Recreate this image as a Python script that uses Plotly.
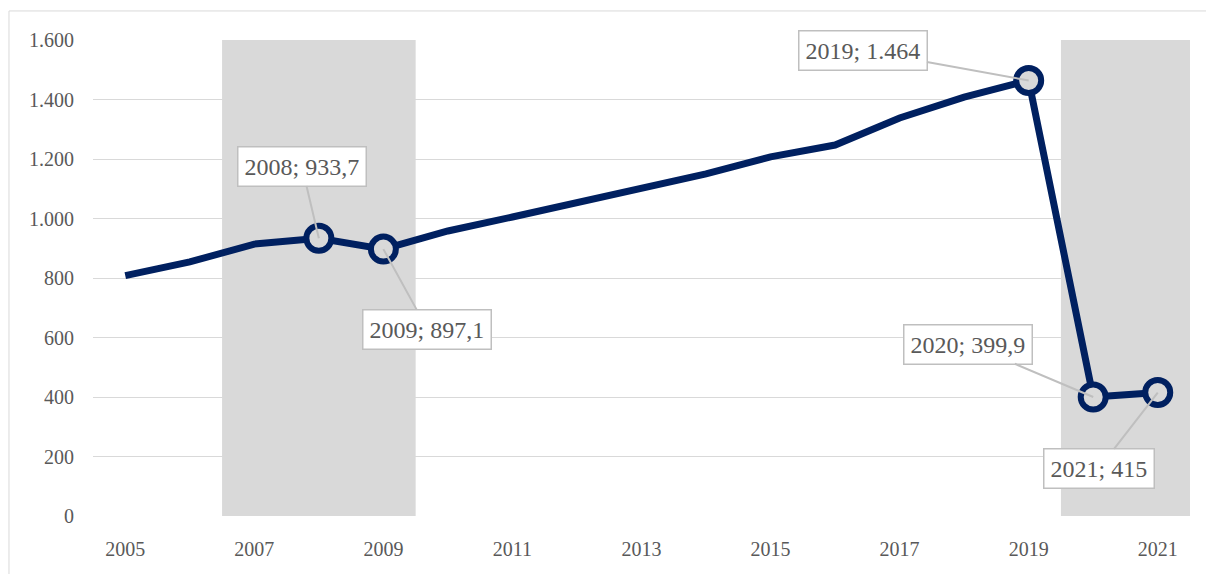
import plotly.graph_objects as go

years = list(range(2005, 2022))
values = [808, 854, 914, 933.7, 897.1, 958, 1005, 1052, 1100, 1150, 1207, 1247,
          1338, 1408, 1464, 399.9, 415]

# highlighted points and their callouts
marked_years = [2008, 2009, 2019, 2020, 2021]
marked_labels = ["2008; 933,7", "2009; 897,1", "2019; 1.464", "2020; 399,9", "2021; 415"]
label_offsets = [(-17, -72), (44, 80), (-166, -30), (-125, -53), (-59, 76)]

# shaded periods
shaded = [(2006.5, 2009.5), (2019.5, 2021.5)]

navy = "#002060"
grey_txt = "#595959"
font_family = "Liberation Serif, Times New Roman, serif"

fig = go.Figure()

fig.add_trace(go.Scatter(
    x=years, y=values, mode="lines",
    line=dict(color=navy, width=7),
    hoverinfo="skip", showlegend=False,
))

marked_values = [values[years.index(y)] for y in marked_years]
fig.add_trace(go.Scatter(
    x=marked_years, y=marked_values, mode="markers",
    marker=dict(size=25, color="#d9d9d9", line=dict(color=navy, width=6)),
    showlegend=False,
))

for x0, x1 in shaded:
    fig.add_shape(type="rect", xref="x", yref="paper", x0=x0, x1=x1, y0=0, y1=1,
                  fillcolor="#d9d9d9", line_width=0, layer="below")

# outer chart border
fig.add_shape(type="rect", xref="paper", yref="paper",
              x0=-0.0766, x1=1.1, y0=-0.2, y1=1.061,
              line=dict(color="#d9d9d9", width=1), fillcolor="rgba(0,0,0,0)")

for yr, val, txt, (ax, ay) in zip(marked_years, marked_values, marked_labels, label_offsets):
    fig.add_annotation(
        x=yr, y=val, text=txt, showarrow=True, arrowhead=0,
        arrowcolor="#bfbfbf", arrowwidth=2, ax=ax, ay=ay,
        bgcolor="white", bordercolor="#bfbfbf", borderwidth=1.5, borderpad=6,
        font=dict(family=font_family, size=24, color=grey_txt),
    )

fig.update_layout(
    width=1206, height=566,
    margin=dict(l=85, r=24, t=32, b=58),
    plot_bgcolor="white", paper_bgcolor="white",
    separators=",.",
    font=dict(family=font_family, size=20, color=grey_txt),
    xaxis=dict(range=[2004.5, 2021.5], tickvals=list(range(2005, 2022, 2)),
               showgrid=False, zeroline=False, showline=False,
               ticks="", ticklabelstandoff=19, fixedrange=True),
    yaxis=dict(range=[0, 1600], tickvals=list(range(0, 1601, 200)), tickformat=",d",
               showgrid=True, gridcolor="#d9d9d9", gridwidth=1.3,
               zeroline=False, showline=False, ticks="", ticklabelstandoff=18,
               fixedrange=True),
)

fig.write_html("out.html")
